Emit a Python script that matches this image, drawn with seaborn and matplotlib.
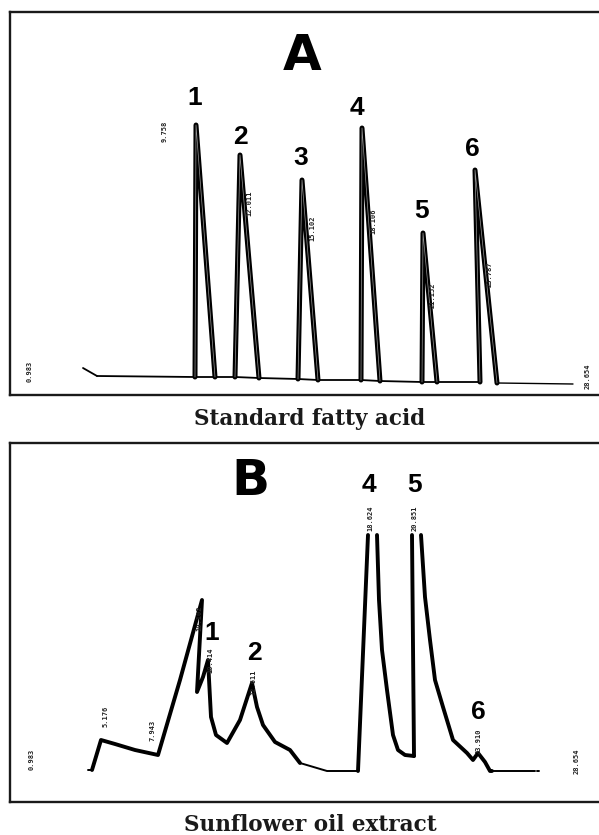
import numpy as np
import pandas as pd
import matplotlib
matplotlib.use("Agg")
import matplotlib.pyplot as plt
import seaborn as sns

sns.set_theme(style="white")
plt.rcParams["font.family"] = ["Liberation Sans", "DejaVu Sans"]
plt.rcParams["text.color"] = "black"

# ---------------- Panel A : standard fatty acids ----------------
# retention time (min) / detector response (a.u.); each segment is drawn separately
a_seg = ["tick", "tick",
         "base", "base", "base", "base", "base", "base", "base", "base", "base", "base", "base", "base",
         "p1", "p1", "p1", "p2", "p2", "p2", "p3", "p3", "p3",
         "p4", "p4", "p4", "p5", "p5", "p5", "p6", "p6", "p6"]
a_time = [4.15, 4.85,
          4.85, 9.75, 10.75, 11.75, 12.95, 14.9, 15.9, 18.05, 19.0, 21.1, 21.85, 24.0,
          9.75, 9.8, 10.75, 11.75, 12.0, 12.95, 14.9, 15.1, 15.9,
          18.05, 18.1, 19.0, 21.1, 21.15, 21.85, 24.0, 23.75, 24.85]
a_resp = [27, 19,
          19, 18, 18, 18, 17, 16, 15, 15, 14, 13, 13, 13,
          18, 270, 18, 18, 240, 17, 16, 215, 15,
          15, 267, 14, 13, 162, 13, 13, 225, 12]
a_tail_time = [24.85, 28.65]
a_tail_resp = [12, 11]

a_peak_ids = ["1", "2", "3", "4", "5", "6"]
a_peak_time = [9.75, 12.0, 15.05, 17.85, 21.1, 23.6]
a_peak_resp = [297, 258, 237, 287, 184, 246]

a_rt_labels = ["0.983", "9.758", "12.011", "15.102", "18.106", "21.152", "23.787", "28.654"]
a_rt_time = [1.5, 8.25, 12.45, 15.6, 18.65, 21.65, 24.5, 29.4]
a_rt_resp = [24, 264, 192, 167, 174, 100, 121, 19]

# ---------------- Panel B : sunflower oil extract ----------------
b_seg = (["lead"] * 2 + ["main"] * 20 + ["flat"] * 3
         + ["p4L"] * 2 + ["p4R"] * 8 + ["p5L"] * 2 + ["p5R"] * 12 + ["tail"] * 2 + ["dash"] * 2)
b_time = [4.4, 4.6,
          4.6, 5.05, 5.75, 6.75, 7.9, 9.0, 10.1, 9.85, 10.15, 10.4, 10.55, 10.8, 11.35,
          12.0, 12.6, 12.85, 13.15, 13.75, 14.5, 15.0,
          15.0, 16.35, 17.9,
          17.9, 18.4,
          18.85, 18.95, 19.1, 19.35, 19.65, 19.9, 20.25, 20.7,
          20.7, 20.6,
          21.05, 21.25, 21.5, 21.75, 22.15, 22.65, 23.35, 23.65, 23.9, 24.25, 24.5, 24.6,
          24.5, 26.75,
          26.85, 26.95]
b_resp = [32, 32,
          32, 62, 58, 52, 47, 122, 202, 110, 125, 142, 85, 67, 59,
          82, 119, 95, 77, 60, 52, 39,
          39, 31, 31,
          31, 267,
          267, 202, 152, 112, 67, 52, 47, 46,
          46, 267,
          267, 205, 162, 122, 95, 62, 49, 42, 49, 40, 31, 31,
          31, 31,
          31, 31]

b_peak_ids = ["1", "2", "4", "5", "6"]
b_peak_time = [10.6, 12.7, 18.45, 20.75, 23.9]
b_peak_resp = [169, 149, 317, 317, 90]

b_rt_labels = ["0.983", "5.176", "7.943", "10.102", "10.414", "12.611", "18.624", "20.851", "23.910", "28.654"]
b_rt_time = [1.6, 5.3, 7.6, 9.95, 10.5, 12.65, 18.5, 20.75, 23.95, 28.85]
b_rt_resp = [43, 86, 72, 184, 142, 120, 284, 284, 61, 41]

XLIM = (0.5, 29.95)

fig = plt.figure(figsize=(5.99, 8.35), dpi=100)
axA = fig.add_axes([10 / 599, 1 - 395 / 835, 1 - 10 / 599, (395 - 12) / 835])
axB = fig.add_axes([10 / 599, 1 - 802 / 835, 1 - 10 / 599, (802 - 443) / 835])

dfA = pd.DataFrame({"seg": a_seg, "time": a_time, "resp": a_resp})
peaksA = dfA[dfA["seg"].str.startswith("p")]
thinA = dfA[~dfA["seg"].str.startswith("p")]
sns.lineplot(data=thinA, x="time", y="resp", units="seg", estimator=None, sort=False,
             color="black", lw=1.3, ax=axA)
sns.lineplot(x=a_tail_time, y=a_tail_resp, color="black", lw=1.0, ax=axA)
sns.lineplot(data=peaksA, x="time", y="resp", units="seg", estimator=None, sort=False,
             color="black", lw=3.6, ax=axA)
sns.lineplot(data=peaksA, x="time", y="resp", units="seg", estimator=None, sort=False,
             color="white", lw=0.5, alpha=0.6, ax=axA)

dfB = pd.DataFrame({"seg": b_seg, "time": b_time, "resp": b_resp})
thick_ids = ["main", "p4L", "p4R", "p5L", "p5R"]
thickB = dfB[dfB["seg"].isin(thick_ids)]
thinB = dfB[~dfB["seg"].isin(thick_ids)]
sns.lineplot(data=thinB, x="time", y="resp", units="seg", estimator=None, sort=False,
             color="black", lw=1.4, ax=axB)
sns.lineplot(data=thickB, x="time", y="resp", units="seg", estimator=None, sort=False,
             color="black", lw=2.8, ax=axB)

for ax, ymax in ((axA, 383), (axB, 359)):
    ax.set_xlim(*XLIM)
    ax.set_ylim(0, ymax)
    ax.set_xticks([])
    ax.set_yticks([])
    ax.set_xlabel("")
    ax.set_ylabel("")
    for side in ("left", "top", "bottom"):
        ax.spines[side].set_visible(True)
        ax.spines[side].set_color("#1a1a1a")
        ax.spines[side].set_linewidth(1.7)
    ax.spines["right"].set_visible(False)
    ax.set_facecolor("white")

for pid, t, r in zip(a_peak_ids, a_peak_time, a_peak_resp):
    axA.text(t, r, pid, fontsize=19, fontweight="bold", ha="center", va="center", color="black")
for pid, t, r in zip(b_peak_ids, b_peak_time, b_peak_resp):
    axB.text(t, r, pid, fontsize=19, fontweight="bold", ha="center", va="center", color="black")

for lab, t, r in zip(a_rt_labels, a_rt_time, a_rt_resp):
    axA.text(t, r, lab, fontsize=5, rotation=90, ha="center", va="center", color="#222222",
             family="DejaVu Sans Mono", fontweight="bold")
for lab, t, r in zip(b_rt_labels, b_rt_time, b_rt_resp):
    axB.text(t, r, lab, fontsize=5, rotation=90, ha="center", va="center", color="#222222",
             family="DejaVu Sans Mono", fontweight="bold")

axA.text(0.496, 0.885, "A", transform=axA.transAxes, fontsize=36, fontweight="bold",
         family="DejaVu Sans", ha="center", va="center", color="black")
axB.text(0.408, 0.894, "B", transform=axB.transAxes, fontsize=36, fontweight="bold",
         family="DejaVu Sans", ha="center", va="center", color="black")

fig.text(310 / 599, 1 - 419 / 835, "Standard fatty acid", family="DejaVu Serif",
         fontweight="bold", fontsize=15.5, ha="center", va="center", color="#1a1a1a")
fig.text(310 / 599, 1 - 825 / 835, "Sunflower oil extract", family="DejaVu Serif",
         fontweight="bold", fontsize=15.5, ha="center", va="center", color="#1a1a1a")

fig.savefig("out.png", dpi=100, facecolor="white")
